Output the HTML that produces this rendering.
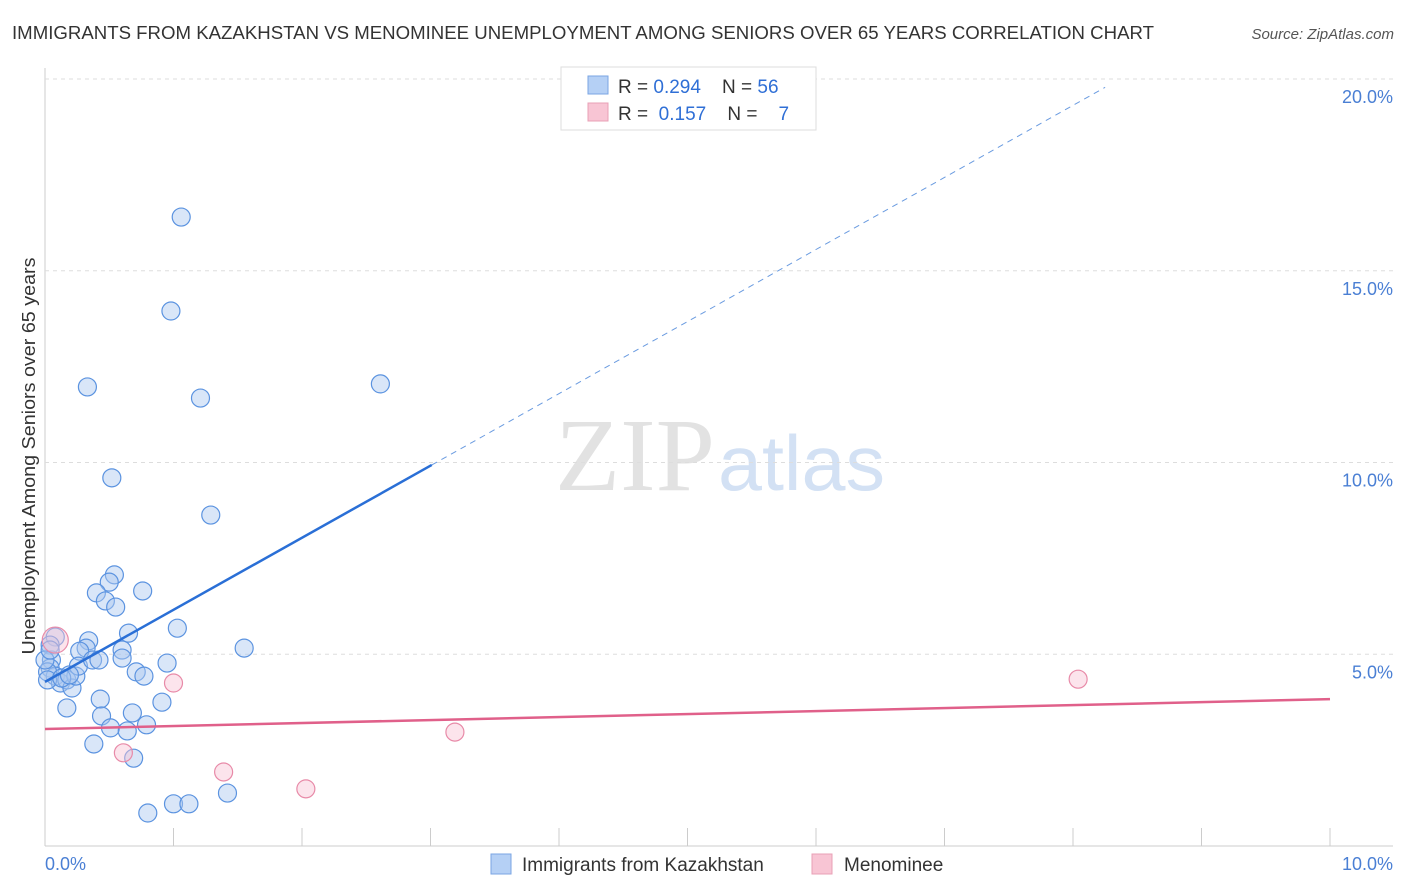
<!DOCTYPE html>
<html><head><meta charset="utf-8"><style>
body{margin:0;background:#fff;font-family:"Liberation Sans",sans-serif;}
svg{display:block}
</style></head><body>
<svg id="c" width="1406" height="892">
<text x="12" y="39" font-size="18" fill="#333" textLength="1142" lengthAdjust="spacingAndGlyphs">IMMIGRANTS FROM KAZAKHSTAN VS MENOMINEE UNEMPLOYMENT AMONG SENIORS OVER 65 YEARS CORRELATION CHART</text>
<text x="1394" y="39" font-size="15" fill="#555" font-style="italic" text-anchor="end">Source: ZipAtlas.com</text>
<text x="555" y="490" font-size="104" fill="#e2e2e2" font-family="Liberation Serif" textLength="160" lengthAdjust="spacingAndGlyphs">ZIP</text>
<text x="718" y="490" font-size="78" fill="#d3e1f4" textLength="167" lengthAdjust="spacingAndGlyphs">atlas</text>
<text x="35" y="456" font-size="18" fill="#333" text-anchor="middle" textLength="397" lengthAdjust="spacingAndGlyphs" transform="rotate(-90 35 456)">Unemployment Among Seniors over 65 years</text>
<g id="grid"></g><g id="marks"></g>
<g>
<rect x="561" y="67" width="255" height="63" fill="#fff" stroke="#ddd"/>
<rect x="588" y="76" width="20" height="18" fill="#b5d0f5" stroke="#7aa5e3"/>
<text x="618" y="93" font-size="19" fill="#333" xml:space="preserve">R = <tspan fill="#2f6fd6">0.294</tspan>    N = <tspan fill="#2f6fd6">56</tspan></text>
<rect x="588" y="103" width="20" height="18" fill="#f8c5d4" stroke="#e8a0b6"/>
<text x="618" y="120" font-size="19" fill="#333" xml:space="preserve">R =  <tspan fill="#2f6fd6">0.157</tspan>    N =    <tspan fill="#2f6fd6">7</tspan></text>
</g>
<g>
<rect x="491" y="854" width="20" height="20" fill="#b5d0f5" stroke="#7aa5e3"/>
<text x="522" y="871" font-size="19" fill="#333">Immigrants from Kazakhstan</text>
<rect x="812" y="854" width="20" height="20" fill="#f8c5d4" stroke="#e8a0b6"/>
<text x="844" y="871" font-size="19" fill="#333">Menominee</text>
</g>
</svg>
<script>
const blueX=[1.06,0.98,0.33,1.21,2.61,0.52,1.29,0.54,0.50,0.40,0.76,0.47,0.55,0.65,1.03,1.55,0.34,0.32,0.27,0.08,0.04,0.05,0.04,0.08,0.12,0.17,0.21,0.24,0.26,0.37,0.42,0.60,0.60,0.71,0.77,0.95,0.43,0.44,0.68,0.91,0.79,0.51,0.64,0.38,0.69,0.80,1.0,1.12,1.42,0.17,0.02,0.0,0.04,0.02,0.13,0.19];
const blueY=[16.4,13.95,11.97,11.68,12.05,9.6,8.63,7.07,6.88,6.6,6.65,6.39,6.23,5.55,5.68,5.16,5.35,5.16,5.08,5.45,5.24,4.85,4.64,4.43,4.25,4.33,4.12,4.43,4.69,4.85,4.85,5.11,4.9,4.54,4.43,4.77,3.83,3.39,3.47,3.75,3.16,3.08,3.0,2.66,2.29,0.86,1.1,1.1,1.38,3.6,4.54,4.85,5.11,4.33,4.38,4.46];
const pinkX=[0.08,1.0,3.19,1.39,2.03,0.61,8.04];
const pinkY=[5.37,4.25,2.97,1.93,1.49,2.43,4.35];
const blueLine=[4.28,1.879]; // intercept, slope
const pinkLine=[3.05,0.078];
const yTicks=[5,10,15,20];
const xTicks=[0,1,2,3,4,5,6,7,8,9,10];
const NS="http://www.w3.org/2000/svg";
const X=v=>45+v*128.5, Y=v=>846-v*38.35;
const grid=document.getElementById('grid'), marks=document.getElementById('marks');
function mk(p,tag,at){const e=document.createElementNS(NS,tag);for(const k in at)e.setAttribute(k,at[k]);p.appendChild(e);return e;}
let ax=mk(grid,'line',{x1:45,y1:68,x2:45,y2:846,stroke:'#ccc'});


let bx=mk(grid,'line',{x1:45,y1:846,x2:1393,y2:846,stroke:'#ccc'});


yTicks.forEach(t=>{
 let g=mk(grid,'line',{x1:45,y1:Y(t),x2:1393,y2:Y(t),stroke:'#ddd','stroke-dasharray':'4,4'});
 
 
 let l=mk(grid,'text',{x:1393,y:Y(t)+24,'font-size':18,fill:'#4a7fd4','text-anchor':'end'});
 l.textContent=t.toFixed(1)+'%';
 
 
});
xTicks.forEach(t=>{
 let g=mk(grid,'line',{x1:X(t),y1:828,x2:X(t),y2:846,stroke:'#ccc'});
 
 
});
[[0,'start',45],[10,'end',1393]].forEach(([t,a,x])=>{
 let l=mk(grid,'text',{x:x,y:870,'font-size':18,fill:'#4a7fd4','text-anchor':a});
 l.textContent=t.toFixed(1)+'%';
 
 
});
blueX.forEach((x,i)=>{
 let c=mk(marks,'circle',{cx:X(x),cy:Y(blueY[i]),r:9,fill:'rgba(170,200,240,0.45)',stroke:'#5b93e0','stroke-width':1.2});
 
 
});
pinkX.forEach((x,i)=>{
 let c=mk(marks,'circle',{cx:X(x),cy:Y(pinkY[i]),r:i==0?13:9,fill:'rgba(248,195,212,0.45)',stroke:'#e88aa8','stroke-width':1.2});
 
 
});
let bl=mk(marks,'line',{x1:X(0),y1:Y(blueLine[0]),x2:X(3.01),y2:Y(blueLine[0]+blueLine[1]*3.01),stroke:'#2a6fd6','stroke-width':2.5});


let bd=mk(marks,'line',{x1:X(3.01),y1:Y(blueLine[0]+blueLine[1]*3.01),x2:X(8.25),y2:Y(blueLine[0]+blueLine[1]*8.25),stroke:'#6a9be0','stroke-width':1,'stroke-dasharray':'6,5'});


let pl=mk(marks,'line',{x1:X(0),y1:Y(pinkLine[0]),x2:X(10),y2:Y(pinkLine[0]+pinkLine[1]*10),stroke:'#e0608a','stroke-width':2.5});


</script>
</body></html>
